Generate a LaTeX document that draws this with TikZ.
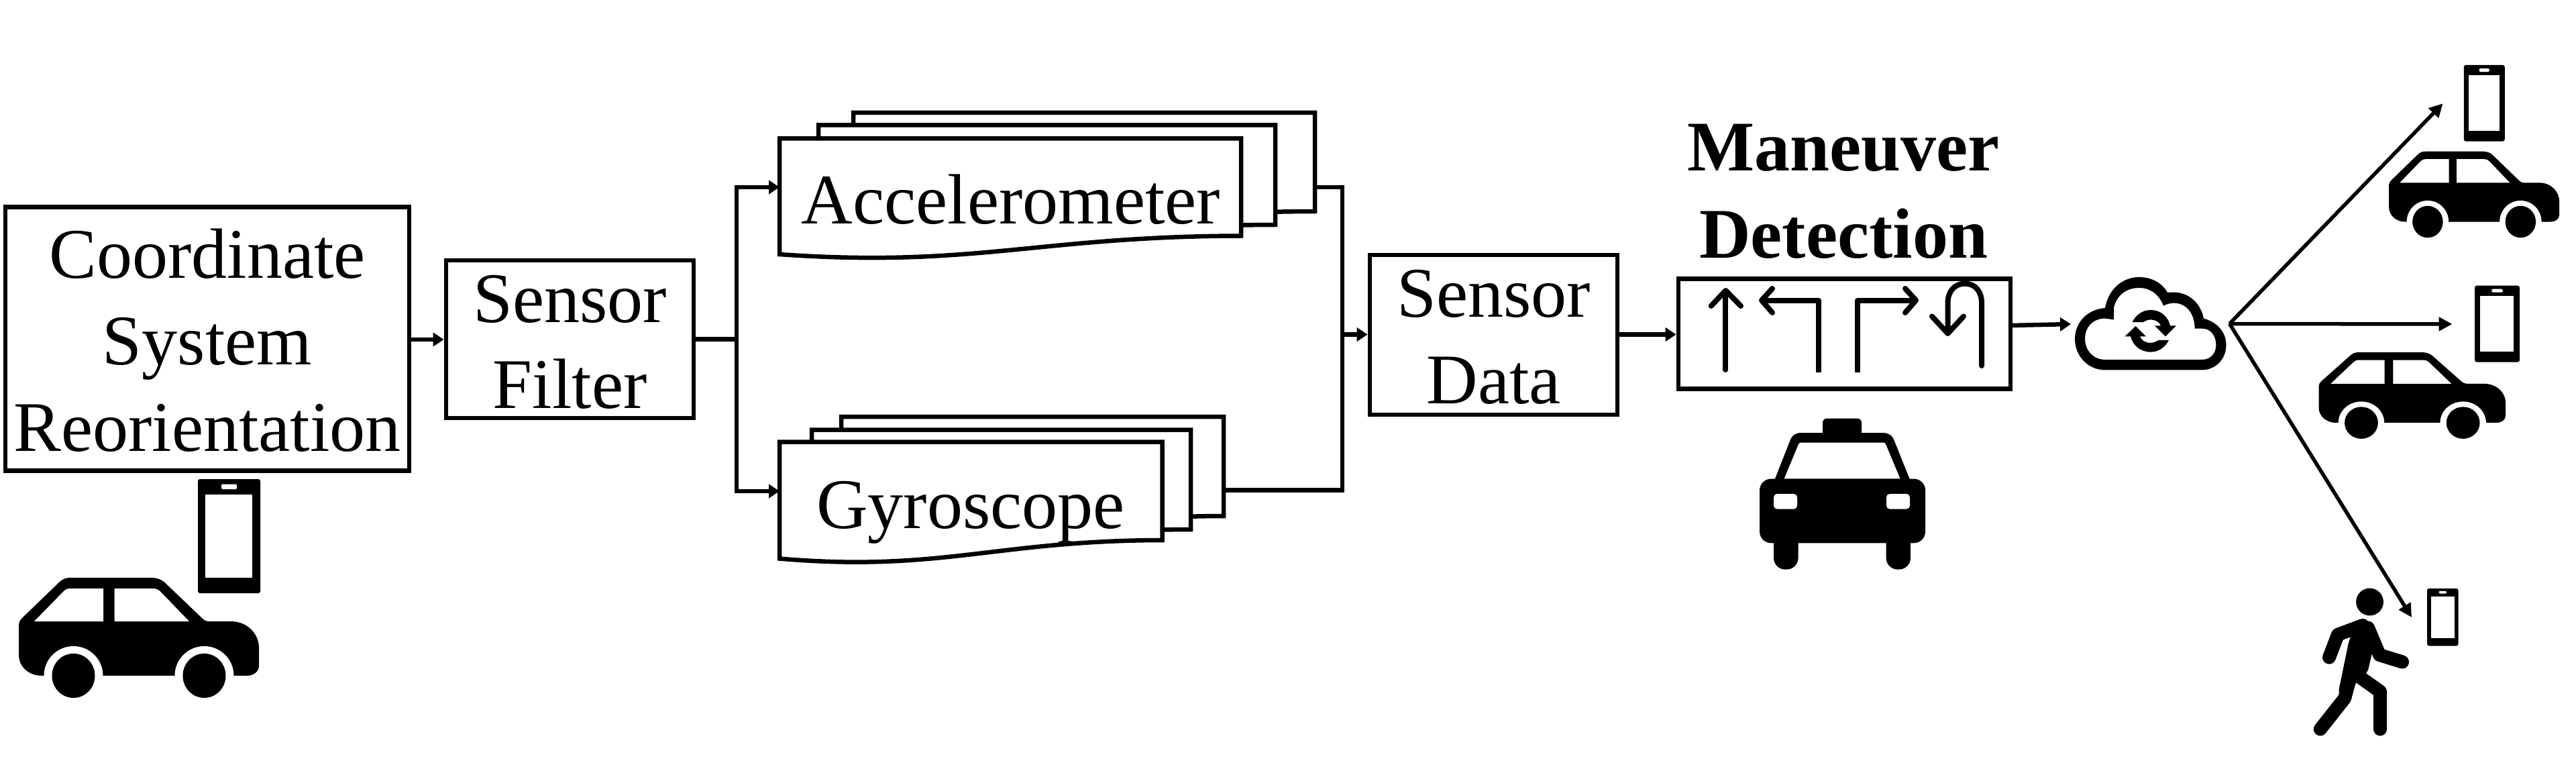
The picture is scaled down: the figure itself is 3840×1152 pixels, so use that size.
\documentclass[tikz,border=0pt]{standalone}
\usepackage{fontspec}
\setmainfont{Liberation Serif}
\usetikzlibrary{arrows.meta}
\newcommand{\docshape}[4]{%
  \filldraw[docline] (#1,#3) -- (#2,#3) -- (#2,#4)
    .. controls ({#2-.436*(#2-#1)},{#4+.5}) and ({#2-.58*(#2-#1)},{#4+48}) .. (#1,{#4+27.5}) -- cycle;}
\newcommand{\boxtext}[2]{\raisebox{#1}[0pt][0pt]{\begin{tabular}[t]{@{}c@{}}#2\end{tabular}}}
\tikzset{
  x=.01cm, y=-.01cm,
  lw/.style={line width=.065cm},
  boxn/.style={draw=black, lw, fill=white, inner sep=0pt, align=center, font=\fontsize{30.16}{36.56}\selectfont},
  txt/.style={inner sep=0pt, anchor=base, font=\fontsize{30.16}{36.56}\selectfont},
  docline/.style={draw=black, fill=white, lw},
  wire/.style={draw=black, lw},
  arr/.style={wire, -{Triangle[length=.16cm,width=.2cm]}},
  arrbig/.style={wire, line width=.055cm, -{Triangle[length=.2cm,width=.2cm]}},
  turn/.style={draw=black, line width=.08cm, line cap=round, line join=round},
  limb/.style={draw=black, line width=.2cm, line cap=round, line join=round},
  car/.pic={
    \fill[black] (0,72) .. controls (0,66) and (2,63) .. (6,59) -- (60,7) .. controls (65,2) and (70,0) .. (77,0)
      -- (196.5,0) .. controls (205,0) and (212,2) .. (217.5,7) -- (274,61) .. controls (277,64) and (280,65) .. (284,65)
      -- (316,65) .. controls (342,65) and (358,85) .. (358,104) -- (358,131) .. controls (358,140) and (350,146) .. (340,146)
      -- (35,146) .. controls (12,146) and (0,130) .. (0,115) -- cycle;
    \fill[white] (23,65) -- (67,20) .. controls (70,17) and (73,16) .. (77,16) -- (126,16) -- (126,65) -- cycle;
    \fill[white] (142.5,16) -- (200,16) .. controls (204,16) and (207,17) .. (210.5,20) -- (254,65) -- (142.5,65) -- cycle;
    \fill[white] (81.5,146) ellipse [x radius=44, y radius=44];
    \fill[white] (276.5,146) ellipse [x radius=44, y radius=44];
    \fill[white] (30,146) rectangle (37.5,179);
    \fill[white] (125.5,146) rectangle (232.5,179);
    \fill[white] (320.5,146) rectangle (330,179);
    \fill[black] (81.5,146) ellipse [x radius=32, y radius=33];
    \fill[black] (276.5,146) ellipse [x radius=32, y radius=33];
  },
  phone/.pic={
    \fill[black, rounded corners=.03cm] (0,0) rectangle (93,170);
    \fill[white] (11,23) rectangle (81,147);
    \fill[white, rounded corners=.02cm] (35,7.5) rectangle (58,15);
  }
}
\begin{document}
\begin{tikzpicture}
\useasboundingbox (0,0) rectangle (3840,1152);
\fill[white] (0,0) rectangle (3840,1152);

% boxes
\node[boxn, minimum width=6.02cm, minimum height=3.925cm] (csr) at (309,505) {\boxtext{25.6pt}{Coordinate\\System\\Reorientation}};
\node[boxn, minimum width=3.69cm, minimum height=2.35cm] (filter) at (849.5,505.5) {\boxtext{7.25pt}{Sensor\\Filter}};
\node[boxn, minimum width=3.69cm, minimum height=2.38cm] (data) at (2226.5,499) {\boxtext{7.4pt}{Sensor\\Data}};
\node[boxn, minimum width=4.95cm, minimum height=1.64cm] (man) at (2749.5,497.5) {};

% document stacks
\docshape{1272}{1960}{168}{315}
\docshape{1220}{1901}{186.5}{335}
\docshape{1162}{1850}{206.5}{351.5}
\docshape{1254}{1824}{621}{769}
\docshape{1210}{1775}{640.5}{789}
\docshape{1162}{1732.6}{658.7}{805}
\node[txt] (acc) at (1507,334) {Accelerometer};
\node[txt] (gyro) at (1447,787) {Gyroscope};
\node[txt, font=\fontsize{30.16}{36.56}\selectfont\bfseries] (mantitle) at (2748,255) {Maneuver};
\node[txt, font=\fontsize{30.16}{36.56}\selectfont\bfseries] (mantitleb) at (2748,385) {Detection};

% junction points
\coordinate (accin) at (1162,279);
\coordinate (gyroin) at (1162,732);
\coordinate (accout) at (1960,279);
\coordinate (gyroout) at (1824,730.5);
\coordinate (split) at (1098,505.5);
\coordinate (merge) at (2001,498.5);
\coordinate (manout) at (2998,485);
\coordinate (cloudin) at (3087,483);
\coordinate (fan) at (3323.5,482.5);
\coordinate (tocartop) at (3641.4,154.3);
\coordinate (tocarmid) at (3655.5,483);
\coordinate (towalker) at (3595,920);

% connectors
\draw[arr] (csr.east |- 0,506) -- (filter.west |- 0,506);
\draw[wire] (filter.east |- split) -- (split);
\draw[arr, line join=miter] (split) |- (accin);
\draw[arr, line join=miter] (split) |- (gyroin);
\draw[wire, line join=miter] (accout) -| (merge);
\draw[wire, line join=miter] (gyroout) -| (merge);
\draw[arr] (merge) -- (data.west |- merge);
\draw[arr] (data.east |- merge) -- (man.west |- merge);
\draw[arr] (manout) -- (cloudin);
\draw[arrbig] (fan) -- (tocartop);
\draw[arrbig] (fan) -- (tocarmid);
\draw[arrbig] (fan) -- (towalker);

% turn arrows
\draw[turn] (2572.4,551) -- (2572.4,435);
\draw[turn] (2550.7,456) -- (2572.4,433) -- (2595,456);
\draw[turn, line cap=butt] (2711,555) -- (2711,447.6) -- (2628,447.6);
\draw[turn] (2642,430) -- (2626,447.6) -- (2642,466);
\draw[turn, line cap=butt] (2769,555) -- (2769,447.6) -- (2854,447.6);
\draw[turn] (2840,430) -- (2856,447.6) -- (2840,466);
\draw[turn] (2954,545) -- (2954,451.4) .. controls (2954,435) and (2945,422.7) .. (2929,422.7)
   .. controls (2913,422.7) and (2903.5,435) .. (2903.5,451.4) -- (2903.5,495);
\draw[turn] (2880,471.5) -- (2903.5,497) -- (2927,471.5);

% taxi
\fill[black, rounded corners=.06cm] (2717,650) -- (2717,623.7) -- (2775,623.7) -- (2775,650) -- cycle;
\fill[black, even odd rule] (2645,716) -- (2669,655) .. controls (2672,648) and (2678,645) .. (2684,645) -- (2807,645) .. controls (2814,645) and (2820,648) .. (2823,655) -- (2847.5,716) -- cycle
  (2659.4,713.6) -- (2680,664) .. controls (2681,661) and (2682,659.6) .. (2684,659.6) -- (2808,659.6) .. controls (2810,659.6) and (2811,661) .. (2812,664) -- (2832.7,713.6) -- cycle;
\fill[black, rounded corners=.17cm] (2644,780) rectangle (2680.5,848.6);
\fill[black, rounded corners=.17cm] (2811.6,780) rectangle (2848,848.6);
\fill[black, rounded corners=.17cm] (2623,713.6) rectangle (2870,809.3);
\fill[white, rounded corners=.05cm] (2644,736) rectangle (2679,758.6);
\fill[white, rounded corners=.05cm] (2812,736) rectangle (2847,758.6);

% cloud
\fill[black, even odd rule] (3138,551.4) .. controls (3112,551.4) and (3093,530) .. (3093,505) .. controls (3093,480) and (3112,461) .. (3138,459)
  .. controls (3143,430) and (3165,413) .. (3188.5,413) .. controls (3208,413) and (3223,422) .. (3231,436)
  .. controls (3260,432) and (3280,450) .. (3285,474.6) .. controls (3305,480) and (3318.5,495) .. (3318.5,514)
  .. controls (3318.5,535) and (3303,551.4) .. (3282,551.4) -- cycle
  (3138,536) .. controls (3120,536) and (3108,522) .. (3108,505) .. controls (3108,487) and (3120,474.6) .. (3138,474.6)
  -- (3151,476.4) -- (3151,458.6) .. controls (3155,440) and (3170,429) .. (3188.5,429) .. controls (3205,429) and (3218,438) .. (3225,455.7)
  .. controls (3245,445) and (3271,455) .. (3271.7,489.6) -- (3282.7,489.6) .. controls (3295,489.6) and (3303.4,500) .. (3303.4,514)
  .. controls (3303.4,527) and (3295,536) .. (3282,536) -- cycle;
\fill[black] (3178.5,480) .. controls (3184,469) and (3194,462) .. (3206,462) .. controls (3221,462) and (3232,472) .. (3235,485.4)
  -- (3244,485.4) -- (3228,501.4) -- (3212,485.4) -- (3221,485.4) .. controls (3219,480) and (3213,476.4) .. (3206,476.4)
  .. controls (3202,476.4) and (3198,478) .. (3195,480) -- cycle;
\fill[black] (3233,506.8) .. controls (3228,517) and (3218,524.6) .. (3206,524.6) .. controls (3190,524.6) and (3179,514) .. (3176,501.4)
  -- (3167.4,501.4) -- (3183.5,486) -- (3199,501.4) -- (3190,501.4) .. controls (3192,507) and (3198,511) .. (3206,511)
  .. controls (3210,511) and (3214,509) .. (3218,506.8) -- cycle;

% cars and phones
\pic at (28,861) {car};
\pic[xscale=.71, yscale=.718] at (3561,225.7) {car};
\pic[xscale=.778, yscale=.72] at (3456.5,525) {car};
\pic at (295,714) {phone};
\pic[xscale=.656, yscale=.668] at (3672.7,97) {phone};
\pic[xscale=.72, yscale=.67] at (3689,425.7) {phone};
\pic[xscale=.5, yscale=.503] at (3618,877) {phone};

% walker
\fill[black] (3532.5,897) ellipse [x radius=20.4, y radius=20.4];
\fill[black, rounded corners=.08cm] (3518,925) -- (3535,928) -- (3541,945) -- (3536.7,969.5) -- (3529,1003.4) -- (3510,1018) -- (3504,1045) -- (3485,1035) -- (3502,952.5) -- cycle;
\draw[limb] (3472,979.7) -- (3485,945.8) -- (3522,932);
\draw[limb] (3530,935.6) -- (3547,976) -- (3581,986.5);
\draw[limb] (3506,1000) -- (3495,1040.8) -- (3458.8,1086.6);
\draw[limb] (3519,1010) -- (3548,1030.6) -- (3548,1086.6);
\end{tikzpicture}
\end{document}
